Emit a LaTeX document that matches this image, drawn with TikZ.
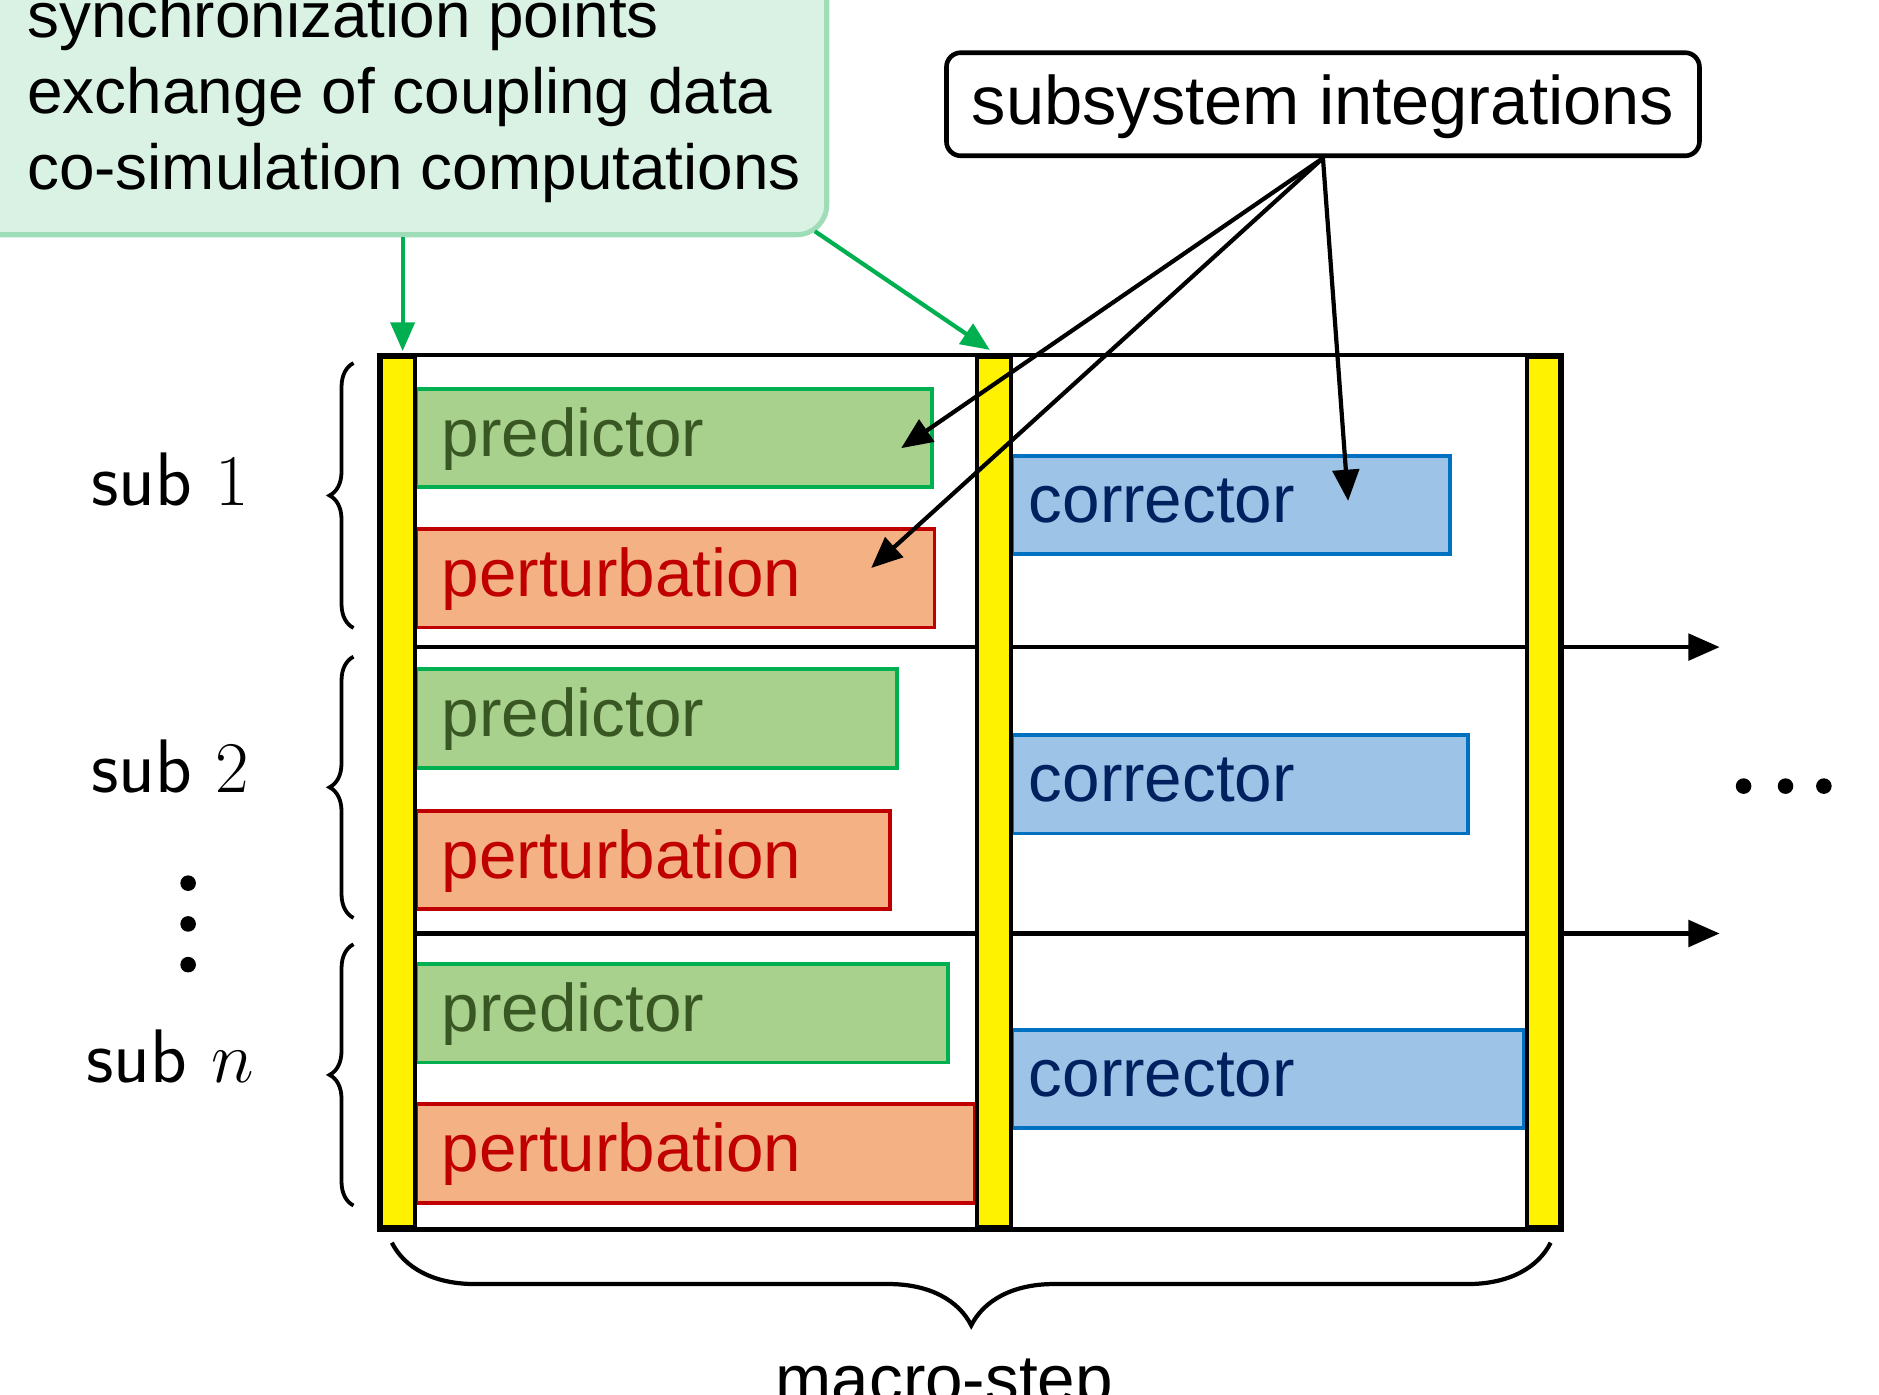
\documentclass[tikz,border=0pt]{standalone}
\usepackage{fontspec}
\setmainfont{Liberation Sans}
\usetikzlibrary{arrows.meta,calc,decorations.pathreplacing}
\pgfdeclarelayer{background}
\pgfsetlayers{background,main}
\definecolor{predfill}{HTML}{A9D18E}
\definecolor{predline}{HTML}{00B050}
\definecolor{predtext}{HTML}{385723}
\definecolor{pertfill}{HTML}{F4B183}
\definecolor{pertline}{HTML}{C00000}
\definecolor{corrfill}{HTML}{9DC3E6}
\definecolor{corrline}{HTML}{0070C0}
\definecolor{corrtext}{HTML}{002060}
\definecolor{syncfill}{HTML}{D9F2E4}
\definecolor{syncline}{HTML}{9FDDB9}
\definecolor{syncarrow}{HTML}{00B050}
\begin{document}
\begin{tikzpicture}[x=0.01cm,y=-0.01cm,
        stagebox/.style={draw,line width=0.9pt,anchor=north west,minimum height=0.82cm,inner xsep=0.21cm,inner ysep=0pt,align=left,text height=0.87em,text depth=0pt,font=\fontsize{16}{19}\selectfont},
        pred/.style={stagebox,fill=predfill,draw=predline,text=predtext},
        pert/.style={stagebox,fill=pertfill,draw=pertline,text=pertline},
        corr/.style={stagebox,fill=corrfill,draw=corrline,text=corrtext,inner xsep=0.14cm,text height=0.8em},
        syncbar/.style={draw,line width=1pt,fill=yellow,minimum width=0.28cm,minimum height=7.26cm,inner sep=0pt},
        sublabel/.style={font=\fontsize{18}{21}\selectfont\sffamily},
        blk/.style={line width=1pt,-{Triangle[length=0.26cm,width=0.22cm]}},
        grn/.style={line width=1pt,draw=syncarrow,-{Triangle[length=0.24cm,width=0.2cm]}}]
    \useasboundingbox (0,0) rectangle (1568,1164);
    \clip (0,0) rectangle (1568,1164);
    \node[draw=syncline,fill=syncfill,line width=1.2pt,rounded corners=0.25cm,anchor=south east,minimum width=7.6cm,minimum height=2.8cm] (sync) at (692,198) {};
    \node[anchor=north west,inner sep=0pt,align=left,font=\fontsize{15.15}{18}\selectfont] (synctext) at (22,-8) {synchronization points\\exchange of coupling data\\co-simulation computations};
    \node[draw,line width=1.1pt,rounded corners=0.12cm,minimum width=6.28cm,minimum height=0.86cm,text height=1em,text depth=0.05em,font=\fontsize{16.3}{19}\selectfont] (integ) at (1104,87) {subsystem integrations};
    \node[pred,text width=3.88cm] (pred1) at (346,323) {predictor};
    \node[pert,text width=3.90cm] (pert1) at (346,440) {perturbation};
    \node[corr,text width=3.37cm] (corr1) at (843,379) {corrector};
    \node[pred,text width=3.59cm] (pred2) at (346,557) {predictor};
    \node[pert,text width=3.53cm] (pert2) at (346,675) {perturbation};
    \node[corr,text width=3.52cm] (corr2) at (843,612) {corrector};
    \node[pred,text width=4.01cm] (pred3) at (346,803) {predictor};
    \node[pert,text width=4.24cm] (pert3) at (346,920) {perturbation};
    \node[corr,text width=3.99cm] (corr3) at (843,858) {corrector};
    \node[syncbar] (bar1) at (332,661) {};
    \node[syncbar] (bar2) at (829.5,661) {};
    \node[syncbar] (bar3) at (1288,661) {};
    \coordinate (end1) at (1435,540);
    \coordinate (end2) at (1435,779);
    \begin{pgfonlayer}{background}
        \draw[line width=1pt] (bar1.north west) rectangle (bar3.south east);
        \draw[blk] (bar1.east |- end1) -- (end1);
        \draw[blk] (bar1.east |- end2) -- (end2);
    \end{pgfonlayer}
    \coordinate (tpred) at (752,374);
    \coordinate (tpert) at (727,474);
    \coordinate (tcorr) at (1125,418);
    \draw[blk] (integ.south) -- (tpred);
    \draw[blk] (integ.south) -- (tpert);
    \draw[blk] (integ.south) -- (tcorr);
    \coordinate (gtip1) at (336,293);
    \coordinate (gtip2) at (826,292);
    \draw[grn] (gtip1 |- sync.south) -- (gtip1);
    \draw[grn] ($(sync.south east)+(-12,-5)$) -- (gtip2);
    \draw[decorate,decoration={brace,amplitude=0.2cm},line width=0.9pt] (295,524) -- (295,303);
    \draw[decorate,decoration={brace,amplitude=0.2cm},line width=0.9pt] (295,766) -- (295,548);
    \draw[decorate,decoration={brace,amplitude=0.2cm},line width=0.9pt] (295,1006) -- (295,788);
    \node[sublabel] (sub1) at (142,400) {sub $1$};
    \node[sublabel] (sub2) at (142,640) {sub $2$};
    \node[sublabel] (subn) at (142,882) {sub $n$};
    \foreach \y in {737,771,805} \fill (157,\y) circle (0.065cm);
    \foreach \x in {1455,1490,1522} \fill (\x,656) circle (0.065cm);
    \draw[decorate,decoration={brace,amplitude=0.69cm},line width=1pt] (1294,1037) -- (327,1037);
    \node[anchor=base,font=\fontsize{16}{19}\selectfont] (macro) at (788,1170) {macro-step};
\end{tikzpicture}
\end{document}
